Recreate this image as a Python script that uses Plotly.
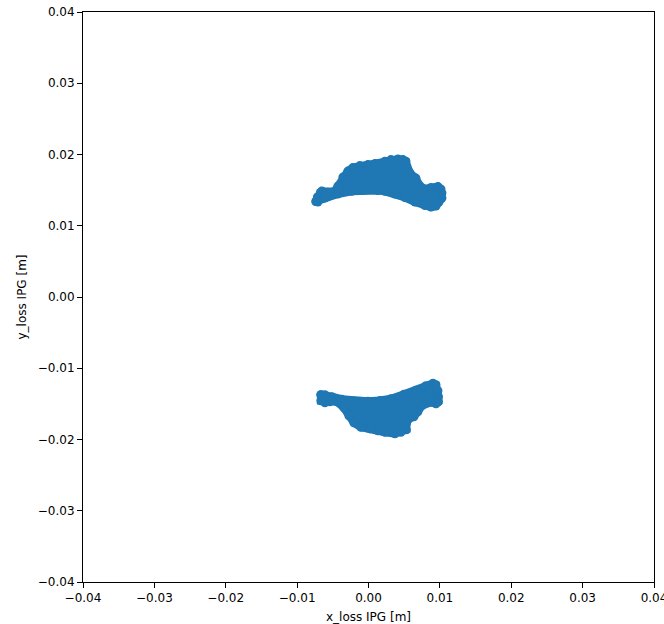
import plotly.graph_objects as go

# Boundary points (marker centres) of the upper loss cluster
upper_x = [-0.00737, -0.00716, -0.00674, -0.00653, -0.00569, -0.00471, -0.00429, -0.00359,
           -0.00289, -0.00219, -0.00121, -0.00008, 0.00090, 0.00230, 0.00314, 0.00412,
           0.00482, 0.00524, 0.00538, 0.00594, 0.00664, 0.00692, 0.00776, 0.00875,
           0.00973, 0.01015, 0.01029, 0.01029, 0.00987, 0.00945, 0.00875, 0.00790,
           0.00650, 0.00510, 0.00370, 0.00230, 0.00132, -0.00050, -0.00233, -0.00429,
           -0.00611, -0.00709, -0.00737]
upper_y = [0.01340, 0.01403, 0.01466, 0.01487, 0.01473, 0.01487, 0.01557, 0.01683,
           0.01767, 0.01816, 0.01844, 0.01858, 0.01872, 0.01907, 0.01929, 0.01936,
           0.01929, 0.01907, 0.01837, 0.01725, 0.01669, 0.01599, 0.01515, 0.01536,
           0.01550, 0.01515, 0.01459, 0.01389, 0.01333, 0.01277, 0.01263, 0.01284,
           0.01333, 0.01396, 0.01445, 0.01483, 0.01494, 0.01501, 0.01483, 0.01445,
           0.01389, 0.01333, 0.01340]

# Boundary points (marker centres) of the lower loss cluster
lower_x = [-0.00667, -0.00611, -0.00513, -0.00373, -0.00191, -0.00008, 0.00160, 0.00314,
           0.00496, 0.00664, 0.00804, 0.00903, 0.00945, 0.00973, 0.00980, 0.00980,
           0.00945, 0.00875, 0.00748, 0.00692, 0.00636, 0.00566, 0.00531, 0.00531,
           0.00454, 0.00370, 0.00230, 0.00132, 0.00020, -0.00107, -0.00205, -0.00275,
           -0.00345, -0.00443, -0.00541, -0.00611, -0.00667, -0.00667]
lower_y = [-0.01372, -0.01372, -0.01400, -0.01435, -0.01463, -0.01463, -0.01453, -0.01428,
           -0.01365, -0.01309, -0.01246, -0.01211, -0.01232, -0.01316, -0.01400, -0.01470,
           -0.01498, -0.01477, -0.01526, -0.01610, -0.01680, -0.01708, -0.01779, -0.01863,
           -0.01898, -0.01919, -0.01898, -0.01877, -0.01849, -0.01828, -0.01765, -0.01666,
           -0.01554, -0.01470, -0.01470, -0.01484, -0.01456, -0.01372]

tick_vals = [-0.04, -0.03, -0.02, -0.01, 0.0, 0.01, 0.02, 0.03, 0.04]
tick_text = ["\u22120.04", "\u22120.03", "\u22120.02", "\u22120.01", "0.00",
             "0.01", "0.02", "0.03", "0.04"]

BLUE = "#1f77b4"
fig = go.Figure()
for xs, ys in [(upper_x, upper_y), (lower_x, lower_y)]:
    fig.add_trace(go.Scatter(
        x=xs, y=ys, mode="lines+markers", fill="toself", fillcolor=BLUE,
        line=dict(color=BLUE, width=8), marker=dict(color=BLUE, size=9),
        showlegend=False, hoverinfo="skip"))

axis_common = dict(
    range=[-0.04, 0.04], tickvals=tick_vals, ticktext=tick_text,
    showgrid=False, zeroline=False, showline=True, linecolor="black", linewidth=1,
    mirror=True, ticks="outside", ticklen=5, tickcolor="black", tickwidth=1,
    tickfont=dict(family="DejaVu Sans", size=12, color="black"),
    automargin=False, ticklabeloverflow="allow",
)
fig.update_xaxes(**axis_common, title=dict(text="x_loss IPG [m]", standoff=10,
                 font=dict(family="DejaVu Sans", size=12, color="black")))
fig.update_yaxes(**axis_common, title=dict(text="y_loss IPG [m]", standoff=8,
                 font=dict(family="DejaVu Sans", size=12, color="black")))
fig.update_layout(
    width=664, height=624, margin=dict(l=83, r=10, t=12, b=42),
    plot_bgcolor="white", paper_bgcolor="white",
)
fig.write_html("out.html")
